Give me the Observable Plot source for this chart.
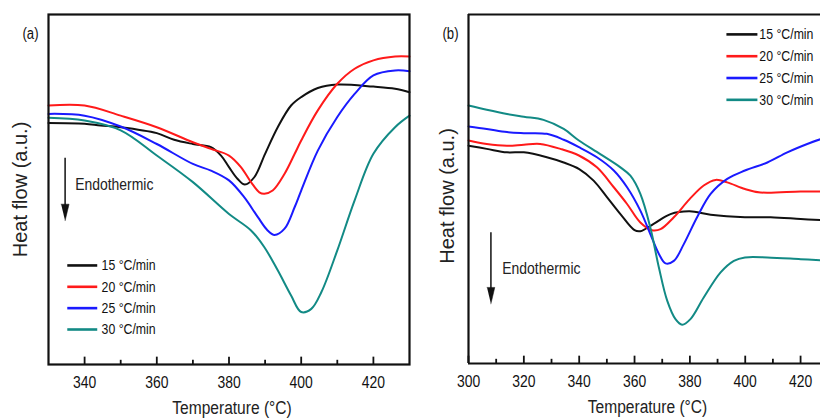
<!DOCTYPE html>
<html><head><meta charset="utf-8">
<script src="https://cdn.jsdelivr.net/npm/d3@7"></script>
<script src="https://cdn.jsdelivr.net/npm/@observablehq/plot@0.6"></script>
<style>
html,body{margin:0;padding:0;background:#fff;overflow:hidden;width:820px;height:418px}
#wrap{position:relative;width:820px;height:418px}
.panel{position:absolute;top:0}
</style></head><body>
<div id="wrap"><div id="pa" class="panel" style="left:0"></div><div id="pb" class="panel" style="left:420px"></div></div>
<script>
const FONT = "'Liberation Sans',Arial,Helvetica,sans-serif";
const rates = ["15 °C/min", "20 °C/min", "25 °C/min", "30 °C/min"];
const colors = ["#111111", "#ff1a1a", "#1a1aff", "#128a85"];

// ---- Panel (a) ----
const aTicksMajor = [340, 360, 380, 400, 420];
const aTicksMinor = [350, 370, 390, 410];
const a15T = [330,340,344.4,350,360,364.8,370,375,377.8,380,382.4,384.4,387,390,393.5,397.2,400,404.6,410,420,426,430];
const a15V = [69.0,68.8,68.3,67.8,66.1,64.2,63.0,62.1,59.7,56.4,53.0,51.4,53.5,60.2,67.8,74.0,76.4,79.0,80.0,79.4,78.8,77.8];
const a20T = [330,340,350,360,370,375,380,383.3,386.1,388.4,389.8,392.1,395.4,398.2,400,404.6,410,414.8,420,426,430];
const a20V = [74.0,74.0,71.1,67.8,63.5,61.6,59.7,56.4,52.1,49.2,48.8,49.7,54.5,60.2,64.0,72.6,80.2,84.5,86.9,88.0,88.0];
const a25T = [330,340,350,360,370,375,380,384.2,388.0,390.7,392.6,395.4,398.2,400,404.6,410,414.8,420,426,430];
const a25V = [71.6,71.1,68.0,63.0,57.3,55.4,52.6,47.8,42.1,38.3,37.0,38.8,45.0,49.7,61.1,70.7,77.3,82.6,84.0,83.8];
const a30T = [330,340,350,360,370,380,386.1,389.8,393.5,397.2,400,402.8,405.6,410,414.8,420,426,430];
const a30V = [70.5,69.7,66.9,59.7,52.1,43.0,38.3,33.5,26.9,19.7,15.0,15.9,20.7,32.6,46.9,60.2,67.8,71.1];

// ---- Panel (b) ----
const bTicksMajor = [300, 320, 340, 360, 380, 400, 420];
const bTicksMinor = [310, 330, 350, 370, 390, 410];
const b15T = [300,306.6,313.9,320,328.3,334.4,340,345.2,350.1,354.9,360,362.1,366.9,373.0,379.9,387.5,399.9,409.2,420,427.3];
const b15V = [62.4,61.5,60.5,60.5,59.1,57.6,55.7,52.4,47.6,42.8,38.2,37.9,40.0,42.8,43.6,42.6,41.9,41.9,41.4,41.1];
const b20T = [300,306.6,313.9,320,325.9,333.2,339.9,346.4,352.5,357.3,362.1,366.3,369.4,374.2,379.9,385.0,389.3,393.5,399.9,405.5,420,427.3];
const b20V = [63.9,62.9,62.4,62.7,62.9,61.5,59.6,56.2,50.5,45.7,40.4,38.2,38.5,41.9,47.1,51.0,52.6,51.9,50.0,49.0,49.3,49.3];
const b25T = [300,306.6,313.9,320,328.3,334.4,339.9,346.4,352.5,357.3,362.1,365.7,368.8,371.2,374.2,377.8,382.6,387.5,393.5,399.9,408.0,415.2,422.4,427.3];
const b25V = [67.9,67.2,66.3,66.0,65.8,64.1,62.0,59.1,55.3,50.5,43.8,37.1,31.4,28.7,29.4,34.2,41.9,48.6,52.9,55.3,57.6,60.5,62.9,64.3];
const b30T = [300,306.6,313.9,320,327.1,334.4,339.9,347.6,354.9,358.5,362.1,365.7,368.8,371.8,374.8,377.2,380.2,385.0,391.1,395.9,399.9,408.0,420,427.3];
const b30V = [73.9,72.7,71.5,70.7,69.8,67.2,63.9,60.0,56.2,53.8,48.6,39.0,27.5,18.0,12.7,11.1,12.7,18.9,26.1,29.4,30.4,30.4,29.9,29.6];

function rows(list) {
  const out = [];
  list.forEach(([T, V], k) => T.forEach((t, i) => out.push({rate: rates[k], T: t, V: V[i]})));
  return out;
}
const rowsA = rows([[a15T, a15V], [a20T, a20V], [a25T, a25V], [a30T, a30V]]);
const rowsB = rows([[b15T, b15V], [b20T, b20V], [b25T, b25V], [b30T, b30V]]);

function arrowHead(x, tip, halfW, len) {
  return [{x: x - halfW, y: tip + len}, {x: x + halfW, y: tip + len}, {x: x, y: tip}];
}

function panel(cfg) {
  const marks = [
    Plot.axisX({ticks: cfg.major, tickSize: 0, tickPadding: 11, label: null, fontSize: 17, tickFormat: d => String(d)}),
    Plot.ruleX(cfg.major, {y1: 0, y2: 2.1, stroke: "#111", strokeWidth: 1.8}),
    Plot.ruleX(cfg.minor, {y1: 0, y2: 1.2, stroke: "#111", strokeWidth: 1.8}),
    Plot.line(cfg.data, {x: "T", y: "V", z: "rate", stroke: "rate", curve: "catmull-rom", strokeWidth: 2}),
    // legend
    Plot.link(rates, {x1: cfg.leg.x1, x2: cfg.leg.x2, y1: (d, i) => cfg.leg.y - cfg.leg.step * i, y2: (d, i) => cfg.leg.y - cfg.leg.step * i, stroke: d => d, strokeWidth: 2.6}),
    Plot.text(rates, {x: cfg.leg.tx, y: (d, i) => cfg.leg.y - cfg.leg.step * i, text: d => d, textAnchor: "start", fontSize: 15, fill: "#111"}),
    // endothermic arrow
    Plot.ruleX([cfg.arrow.x], {y1: cfg.arrow.y1, y2: cfg.arrow.y2 + 4, stroke: "#111", strokeWidth: 1.5}),
    Plot.line(arrowHead(cfg.arrow.x, cfg.arrow.y2, cfg.arrow.hw, 4.7), {x: "x", y: "y", fill: "#111", stroke: "#111", strokeWidth: 0.5}),
    Plot.text(["Endothermic"], {x: cfg.endo.x, y: cfg.endo.y, textAnchor: "start", fontSize: 17, fill: "#222"}),
    // labels
    Plot.text([cfg.tag], {frameAnchor: "top-left", dx: -18, dy: 19, textAnchor: "middle", lineAnchor: "middle", fontSize: 16, fill: "#111"}),
    Plot.text(["Heat flow (a.u.)"], {frameAnchor: "left", rotate: -90, dx: cfg.ylabDx, dy: cfg.ylabDy, textAnchor: "middle", lineAnchor: "middle", fontSize: 20, fill: "#222"}),
    Plot.text(["Temperature (°C)"], {frameAnchor: "bottom", dx: cfg.xlabDx, dy: 43, textAnchor: "middle", lineAnchor: "middle", fontSize: 19, fill: "#222"})
  ];
  if (cfg.fullFrame) {
    marks.push(Plot.frame({stroke: "#111", strokeWidth: 2.2}));
  } else {
    marks.push(Plot.ruleY([0, 100], {stroke: "#111", strokeWidth: 2.2}));
    marks.push(Plot.ruleX([cfg.domain[0]], {y1: 0, y2: 100, stroke: "#111", strokeWidth: 2.2}));
  }
  return Plot.plot({
    width: cfg.width, height: 418,
    marginLeft: 48, marginRight: cfg.mr, marginTop: 14, marginBottom: cfg.mb,
    x: {domain: cfg.domain},
    y: {domain: [0, 100], axis: null},
    color: {domain: rates, range: colors},
    style: {fontFamily: FONT, fontSize: "17px", color: "#111", background: "white", overflow: "visible"},
    marks
  });
}

// The reference's lettering is horizontally narrow: squeeze horizontal texts about their anchor.
function condense(svg, k) {
  svg.querySelectorAll("text").forEach(t => {
    const tr = (t.getAttribute("transform") || "") + (t.parentNode.getAttribute("transform") || "");
    if (/rotate/.test(tr)) return;
    const xa = t.getAttribute("x");
    let x = 0;
    if (xa !== null && isFinite(+xa)) { x = +xa; t.removeAttribute("x"); }
    else if (xa !== null) return;
    t.setAttribute("transform", `${t.getAttribute("transform") || ""} translate(${x},0) scale(${k},1)`.trim());
  });
}

const pa = panel({
  width: 420, mr: 11, mb: 54, domain: [330, 430], data: rowsA,
  major: aTicksMajor, minor: aTicksMinor, fullFrame: true, tag: "(a)",
  leg: {x1: 335.2, x2: 343.5, tx: 344.7, y: 28.3, step: 6.1},
  arrow: {x: 334.6, y1: 58.9, y2: 41.1, hw: 1.1},
  endo: {x: 337.4, y: 51.4},
  ylabDx: -28, ylabDy: 0, xlabDx: 3
});
document.getElementById("pa").appendChild(pa);
const pb = panel({
  width: 400, mr: 0, mb: 55, domain: [300, 427.2], data: rowsB,
  major: bTicksMajor, minor: bTicksMinor, fullFrame: false, tag: "(b)",
  leg: {x1: 393.2, x2: 404.4, tx: 405.1, y: 94.3, step: 6.25},
  arrow: {x: 308.1, y1: 37.5, y2: 17.1, hw: 1.4},
  endo: {x: 312.2, y: 27.2},
  ylabDx: -21, ylabDy: 7, xlabDx: 3
});
document.getElementById("pb").appendChild(pb);
condense(pa, 0.82);
condense(pb, 0.82);
</script>
</body></html>
